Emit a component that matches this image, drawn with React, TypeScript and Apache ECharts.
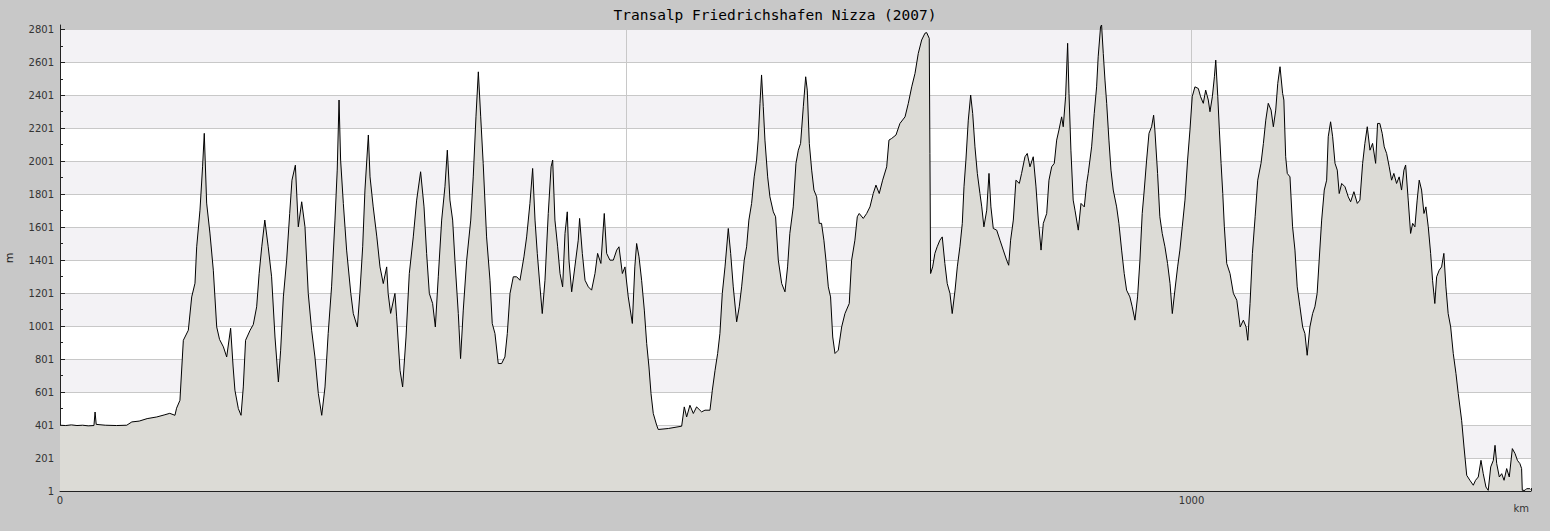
import React, { useEffect, useRef } from "react";
import * as echarts from "echarts";

const TITLE = "Transalp Friedrichshafen Nizza (2007)";

const distanceKm: number[] = [
  0, 5, 10, 15, 20, 25, 30, 31, 32, 40, 50, 59, 63.5, 70, 77, 85.5, 92, 97, 101.6, 103,
  106, 109, 113.4, 116.4, 119.3, 120.8, 123.7, 126, 127.5, 129.6, 132.5, 135.5, 138.5, 141, 144.4, 147.3, 150.8, 153, 154.6, 157.6,
  160, 162, 164, 168, 170.8, 173.8, 176, 178.3, 181, 184, 187, 190, 193, 195, 197.4, 200.3, 203, 205, 208, 210.6,
  213.6, 216.5, 219.4, 222.4, 225.3, 228.3, 231.3, 234.2, 237, 240, 243, 245, 246.6, 248, 250.4, 253.3, 257, 259.2, 262.8, 265,
  267.5, 269.5, 272.5, 274, 276.8, 280, 282.8, 285.7, 288.7, 290, 292.2, 296, 297.5, 300.5, 302.8, 305.8, 308.7, 312.2, 315.2, 318.7,
  321.7, 324, 326.4, 329.3, 331.7, 334.3, 337.3, 340.2, 342.3, 344.6, 347, 349, 352, 354, 356.4, 359.4, 363, 365.2, 367.6, 369.7,
  371.8, 374, 377, 380, 382, 384.4, 387.3, 390.3, 393.2, 395.3, 397.7, 400.6, 403.6, 406.5, 410, 412.4, 415.3, 417.7, 419.8, 421.8,
  424.2, 426.2, 428.6, 431.5, 434, 435.4, 437.4, 439.8, 441.9, 444.2, 446.3, 448.3, 449.8, 452.2, 455, 458, 459.2, 461.6, 464, 466.9,
  469.8, 472.8, 475.1, 478, 481, 483.1, 486, 489, 492, 494, 497, 499.3, 502.2, 505.8, 508, 509.6, 511.7, 514, 516.4, 518.5,
  520.5, 522.3, 524.3, 527.3, 528.7, 537.6, 549.4, 551.7, 553.8, 556.7, 559.7, 562.6, 567, 570, 574.4, 576.5, 578.9, 581.2, 583.2, 585.3,
  587.7, 590.6, 592.7, 595, 598, 600.3, 602.4, 604.7, 606.8, 608.8, 611.2, 613.5, 615.6, 617, 618.6, 620, 621.5, 623, 625.4, 627.4,
  630.4, 632.4, 634.8, 637.8, 640.7, 643, 645, 648, 650.4, 652.5, 654.5, 656.9, 659, 660.4, 662.2, 664.3, 666.3, 668.7, 671, 673,
  675.1, 676.9, 679, 681, 682.9, 684.9, 687.8, 690.8, 693.7, 697.5, 699.6, 702.5, 704.6, 706.3, 709.9, 712.9, 715.8, 718.7, 721.1, 724,
  727, 730.6, 732.6, 735, 738.8, 742.3, 746.8, 749.7, 752.7, 755.6, 758.5, 761.5, 764.4, 765.9, 768.2, 768.8, 769.4, 771.2, 773.2, 775.2,
  777.6, 779.7, 782, 784.1, 786.5, 788.5, 791, 793, 795.3, 797.4, 798.9, 800.6, 802.7, 804.8, 806.6, 808.6, 810.7, 813, 814.6, 816.5,
  819, 821, 822.7, 824.8, 827.8, 830.7, 833.6, 836.6, 838.4, 840.1, 842.5, 844.8, 847.8, 849.8, 852.8, 854.8, 857.2, 860.1, 862.5, 864.6,
  867, 869, 872, 874, 876.4, 878.7, 880.8, 882.8, 885.2, 886.6, 888.7, 890.5, 891.7, 893.4, 895.4, 897, 899.9, 902.3, 905.2, 907.3,
  908.7, 911.7, 914, 916.1, 917.5, 919.6, 920.5, 922, 923.5, 925, 927, 928.8, 930.8, 933.8, 935.8, 938.2, 940.5, 942.6, 945.5, 947.6,
  950, 952.3, 954.4, 956.4, 958.2, 960.3, 962.4, 964.7, 966.5, 967.6, 970, 972, 974.1, 976.5, 978.8, 981, 983, 985.3, 987.7, 989.7,
  991.8, 994.2, 996.5, 998.6, 1000.6, 1003, 1006, 1008, 1010.4, 1012.5, 1014.8, 1016.3, 1018.4, 1020.2, 1021.4, 1023.2, 1024.6, 1026.1, 1027.6, 1029,
  1031.1, 1034, 1037, 1040, 1043, 1045.8, 1048.2, 1049.7, 1051.7, 1053.8, 1056.2, 1058.5, 1061.4, 1063.5, 1065.6, 1067.8, 1070.3, 1072.3, 1074.4, 1076.2,
  1078.2, 1080.5, 1081.6, 1083.2, 1084.6, 1087, 1089.3, 1091.4, 1093.4, 1095.8, 1098.2, 1100.2, 1102.2, 1104.6, 1107, 1109, 1111, 1112.8, 1115, 1117.3,
  1119.4, 1120.8, 1122.9, 1124.7, 1126.8, 1128.8, 1130.5, 1132.7, 1135.6, 1138.5, 1140.6, 1143.5, 1146.5, 1148.8, 1151.2, 1153.2, 1155.3, 1157.7, 1160, 1162.7,
  1164.4, 1166.4, 1168.5, 1170.3, 1172.4, 1174.7, 1176.8, 1178.8, 1181.2, 1183.5, 1185.6, 1187.7, 1189.2, 1191.5, 1193.6, 1195.4, 1197.4, 1199.4, 1201.2, 1203.3,
  1205.4, 1207.1, 1209.2, 1211.3, 1213, 1215, 1216.6, 1218.9, 1221, 1223, 1224.8, 1226.8, 1229, 1231.3, 1233.7, 1235.7, 1238.7, 1240.8, 1243.2, 1246,
  1249, 1251, 1253.4, 1255.8, 1257.8, 1260.2, 1262.2, 1264.4, 1266.7, 1268.2, 1269.7, 1272, 1274.1, 1276.2, 1278.5, 1280.8, 1283.5, 1285.9, 1288, 1290.2,
  1291.7, 1292.3, 1294.7, 1296.1, 1299, 1299.7,
];

const elevationM: number[] = [
  400, 398, 402, 398, 400, 396, 398, 480, 405, 400, 398, 400, 420, 425, 440, 450, 462, 472, 460, 503,
  551, 915, 976, 1178, 1261, 1482, 1704, 1967, 2170, 1747, 1565, 1340, 996, 920, 875, 814, 988, 753, 612, 501,
  460, 632, 915, 976, 1010, 1118, 1320, 1482, 1644, 1482, 1300, 935, 662, 855, 1178, 1401, 1684, 1886, 1977, 1603,
  1755, 1603, 1199, 976, 814, 592, 460, 632, 956, 1239, 1644, 1947, 2372, 2008, 1745, 1462, 1199, 1077, 996, 1199,
  1482, 1826, 2160, 1906, 1724, 1542, 1360, 1259, 1360, 1199, 1078, 1199, 1057, 733, 632, 935, 1320, 1542, 1765, 1937,
  1724, 1442, 1199, 1138, 996, 1300, 1644, 1846, 2068, 1765, 1644, 1401, 1077, 804, 1098, 1401, 1644, 1906, 2270, 2543,
  2270, 1988, 1542, 1279, 1017, 956, 774, 774, 814, 956, 1199, 1300, 1300, 1279, 1421, 1542, 1745, 1957, 1644, 1442,
  1239, 1077, 1279, 1684, 1967, 2008, 1644, 1482, 1320, 1239, 1563, 1694, 1401, 1209, 1360, 1522, 1654, 1442, 1279, 1239,
  1219, 1320, 1442, 1381, 1684, 1442, 1401, 1401, 1462, 1482, 1320, 1360, 1178, 1017, 1360, 1502, 1421, 1279, 1098, 895,
  753, 592, 471, 400, 374, 380, 394, 511, 450, 521, 471, 511, 481, 491, 491, 612, 733, 835, 956, 1199,
  1360, 1593, 1442, 1239, 1027, 1118, 1239, 1401, 1482, 1644, 1745, 1906, 2008, 2129, 2352, 2524, 2332, 2129, 1906, 1785,
  1694, 1664, 1401, 1259, 1209, 1360, 1563, 1724, 1988, 2068, 2109, 2331, 2513, 2432, 2109, 1947, 1826, 1785, 1624, 1624,
  1522, 1401, 1239, 1178, 935, 835, 855, 996, 1077, 1138, 1401, 1522, 1664, 1684, 1654, 1684, 1724, 1805, 1856, 1805,
  1886, 1967, 2129, 2139, 2160, 2230, 2270, 2352, 2452, 2533, 2655, 2736, 2777, 2781, 2746, 2048, 1320, 1360, 1442, 1482,
  1522, 1542, 1381, 1259, 1199, 1077, 1219, 1360, 1482, 1624, 1846, 2008, 2250, 2402, 2290, 2088, 1927, 1805, 1724, 1603,
  1704, 1927, 1724, 1593, 1583, 1522, 1462, 1401, 1370, 1522, 1644, 1886, 1866, 1927, 2028, 2048, 1967, 2028, 1850, 1644,
  1462, 1624, 1684, 1886, 1967, 1988, 2129, 2190, 2270, 2210, 2392, 2716, 2412, 2068, 1765, 1704, 1583, 1745, 1724, 1866,
  1927, 2088, 2290, 2452, 2634, 2817, 2827, 2655, 2493, 2352, 2129, 1947, 1826, 1724, 1624, 1462, 1320, 1219, 1178, 1118,
  1037, 1178, 1401, 1684, 1826, 2008, 2170, 2210, 2280, 2190, 1927, 1664, 1563, 1482, 1381, 1259, 1077, 1219, 1360, 1462,
  1603, 1765, 2008, 2190, 2392, 2452, 2442, 2392, 2352, 2432, 2372, 2301, 2392, 2513, 2614, 2392, 2190, 1988, 1805, 1603,
  1381, 1320, 1199, 1158, 996, 1037, 996, 915, 1138, 1442, 1664, 1886, 1988, 2109, 2250, 2352, 2311, 2210, 2311, 2473,
  2574, 2412, 2372, 2028, 1927, 1906, 1603, 1462, 1239, 1118, 996, 956, 824, 996, 1077, 1118, 1199, 1401, 1644, 1826,
  1886, 2149, 2240, 2149, 1988, 1947, 1805, 1866, 1846, 1785, 1755, 1816, 1745, 1765, 1988, 2109, 2210, 2068, 2109, 1988,
  2230, 2230, 2170, 2088, 2048, 1967, 1886, 1927, 1866, 1906, 1826, 1947, 1978, 1765, 1563, 1624, 1603, 1765, 1886, 1826,
  1684, 1724, 1603, 1442, 1279, 1138, 1300, 1340, 1360, 1442, 1239, 1077, 996, 835, 713, 592, 430, 268, 96, 66,
  36, 66, 86, 187, 106, 25, 5, 147, 187, 278, 167, 86, 106, 66, 137, 86, 258, 228, 187, 167,
  137, 5, 5, 15, 15, 10,
];

const yMajorTicks: number[] = [1, 201, 401, 601, 801, 1001, 1201, 1401, 1601, 1801, 2001, 2201, 2401, 2601, 2801];
const yMinorTicks: number[] = [101, 301, 501, 701, 901, 1101, 1301, 1501, 1701, 1901, 2101, 2301, 2501, 2701];
const xLabelValues: number[] = [0, 1000];
const xMajorTicks: number[] = [500, 1000];

const Y_MIN = 1;
const Y_MAX = 2827;
const X_MIN = 0;
const X_MAX = 1300;

export default function App() {
  const ref = useRef<HTMLDivElement>(null);

  useEffect(() => {
    document.body.style.margin = "0";
    if (!ref.current) return;
    const chart = echarts.init(ref.current, null, { renderer: "svg" });
    const data = distanceKm.map((k, i) => [k, elevationM[i]]);
    const labelFont = { fontFamily: "DejaVu Sans", fontSize: 10, color: "#333" };

    chart.setOption({
      animation: false,
      backgroundColor: "#c8c8c8",
      title: {
        text: TITLE,
        left: "center",
        top: 7,
        padding: 0,
        textStyle: {
          fontFamily: "DejaVu Sans Mono",
          fontSize: 14.5,
          fontWeight: "normal",
          color: "#000",
        },
      },
      grid: { left: 60, right: 19, top: 25, bottom: 40, containLabel: false, outerBoundsMode: "none" },
      xAxis: [
        {
          type: "value",
          min: X_MIN,
          max: X_MAX,
          interval: 100,
          axisLine: { show: true, lineStyle: { color: "#222", width: 1 } },
          axisTick: { show: true, inside: true, length: 3, lineStyle: { color: "#222" } },
          axisLabel: {
            ...labelFont,
            margin: 4,
            customValues: xLabelValues,
            formatter: (v: number) => (xLabelValues.includes(v) ? String(v) : ""),
          },
          splitLine: { show: false },
        },
        {
          type: "value",
          min: X_MIN,
          max: X_MAX,
          interval: 500,
          position: "bottom",
          offset: 0,
          axisLine: { show: false },
          axisTick: { show: true, inside: true, length: 5, customValues: xMajorTicks, lineStyle: { color: "#222" } },
          axisLabel: { show: false },
          splitLine: { show: true, lineStyle: { color: "#c8c8c8", width: 1 } },
        },
      ],
      yAxis: [
        {
          type: "value",
          min: Y_MIN,
          max: Y_MAX,
          interval: 200,
          name: "m",
          nameLocation: "middle",
          nameGap: 45,
          nameRotate: 90,
          nameTextStyle: { fontFamily: "DejaVu Sans", fontSize: 11, color: "#222" },
          axisLine: { show: true, lineStyle: { color: "#222", width: 1 } },
          axisTick: { show: true, inside: true, length: 5, customValues: yMajorTicks, lineStyle: { color: "#222" } },
          axisLabel: {
            ...labelFont,
            margin: 6,
            customValues: yMajorTicks,
            formatter: (v: number) => (yMajorTicks.includes(v) ? String(v) : ""),
          },
          splitLine: { show: true, lineStyle: { color: "#c8c8c8", width: 1 } },
          splitArea: { show: true, areaStyle: { color: ["#ffffff", "#f3f2f5"] } },
        },
        {
          type: "value",
          min: Y_MIN,
          max: Y_MAX,
          interval: 200,
          position: "left",
          offset: 0,
          axisLine: { show: false },
          axisTick: { show: true, inside: true, length: 3, customValues: yMinorTicks, lineStyle: { color: "#222" } },
          axisLabel: { show: false },
          splitLine: { show: false },
        },
      ],
      graphic: [
        {
          type: "text",
          right: 21,
          top: 503,
          style: { text: "km", fontFamily: "DejaVu Sans", fontSize: 10, fill: "#333" },
        },
      ],
      series: [
        {
          type: "line",
          xAxisIndex: 0,
          yAxisIndex: 0,
          data,
          symbol: "none",
          showSymbol: false,
          lineStyle: { color: "#000", width: 1 },
          areaStyle: { color: "#dcdbd6", opacity: 1, origin: "start" },
          itemStyle: { color: "#000" },
          z: 3,
        },
      ],
    });

    return () => chart.dispose();
  }, []);

  return <div ref={ref} style={{ width: 1550, height: 531 }} />;
}
